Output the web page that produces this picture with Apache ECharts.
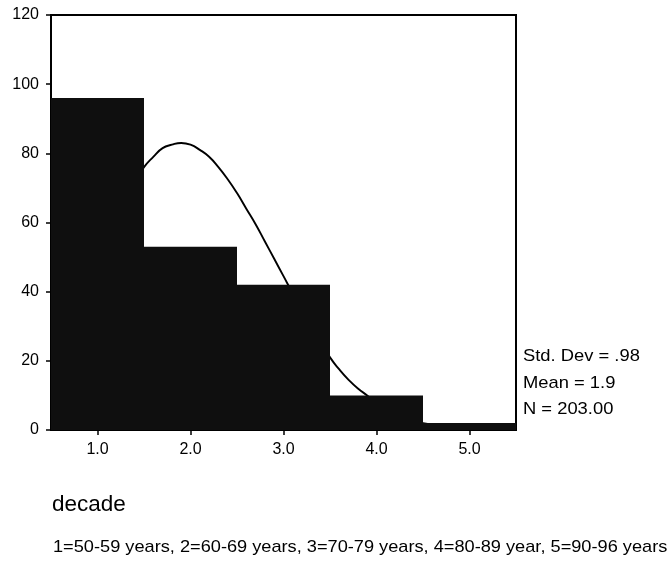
<!DOCTYPE html>
<html>
<head>
<meta charset="utf-8">
<script src="https://cdn.jsdelivr.net/npm/echarts@6/dist/echarts.min.js"></script>
<style>
  html, body { margin: 0; padding: 0; background: #fff; }
  #chart { width: 671px; height: 562px; }
</style>
</head>
<body>
<div id="chart"></div>
<script>
// Histogram of age decade with fitted normal curve
const binLabels = ['1.0', '2.0', '3.0', '4.0', '5.0'];
const binCounts = [96, 53, 42, 10, 2];

// Normal curve read along the decade scale: [decade, frequency]
const curveX = [0.5, 0.75, 1.0, 1.25, 1.5, 1.6, 1.7, 1.8, 1.9, 2.0, 2.1, 2.2, 2.3, 2.4, 2.5,
                2.6, 2.7, 2.8, 2.9, 3.0, 3.1, 3.2, 3.3, 3.4, 3.5, 3.6, 3.7, 3.8, 3.9, 4.0,
                4.25, 4.5, 5.0, 5.5];
const curveY = [30, 41, 54, 66, 76, 79, 81.5, 82.5, 83, 82.5, 81, 79, 76, 72.5, 68.5,
                64, 59.5, 54.5, 49.5, 44.5, 39.5, 35, 30, 25.5, 21, 17.5, 14.5, 12, 10, 8,
                4.5, 2, 0.5, 0.1];

const statLines = ['Std. Dev = .98', 'Mean = 1.9', 'N = 203.00'];
const axisTitle = 'decade';
const axisNote = '1=50-59 years, 2=60-69 years, 3=70-79 years, 4=80-89 year, 5=90-96 years';

const font = 'Liberation Sans, Arial, sans-serif';
const chart = echarts.init(document.getElementById('chart'), null, { renderer: 'canvas' });

function label(text, x, y, size, stretch) {
  return {
    type: 'text', x: x, y: y, scaleX: stretch || 1,
    style: { text: text, font: size + 'px ' + font, fill: '#000', textVerticalAlign: 'middle', verticalAlign: 'middle' }
  };
}

chart.setOption({
  animation: false,
  backgroundColor: '#fff',
  grid: {
    left: 51, right: 155, top: 15, bottom: 132,
    show: true, borderColor: '#000', borderWidth: 2, backgroundColor: 'transparent'
  },
  xAxis: [
    {
      type: 'category',
      data: binLabels,
      boundaryGap: true,
      axisLine: { show: true, lineStyle: { color: '#000', width: 2 } },
      axisTick: { show: true, alignWithLabel: true, length: 5, lineStyle: { color: '#000', width: 1.5 } },
      axisLabel: { color: '#000', fontFamily: font, fontSize: 16, margin: 12 },
      splitLine: { show: false }
    },
    {
      type: 'value',
      min: 0.5, max: 5.5,
      show: false
    }
  ],
  yAxis: {
    type: 'value',
    min: 0, max: 120, interval: 20,
    axisLine: { show: true, lineStyle: { color: '#000', width: 2 } },
    axisTick: { show: true, length: 5, lineStyle: { color: '#000', width: 1.5 } },
    axisLabel: { color: '#000', fontFamily: font, fontSize: 16, margin: 12 },
    splitLine: { show: false }
  },
  series: [
    {
      type: 'line',
      xAxisIndex: 1,
      data: curveX.map((x, i) => [x, curveY[i]]),
      smooth: true,
      showSymbol: false,
      lineStyle: { color: '#000', width: 1.9 },
      z: 1
    },
    {
      type: 'bar',
      xAxisIndex: 0,
      data: binCounts,
      barWidth: '100%',
      barCategoryGap: '0%',
      itemStyle: { color: '#0f0f0f' },
      z: 3
    }
  ],
  graphic: [
    label(statLines[0], 523, 356.5, 17, 1.08),
    label(statLines[1], 523, 383, 17, 1.08),
    label(statLines[2], 523, 409.5, 17, 1.08),
    label(axisTitle, 52, 505, 22.5, 1),
    label(axisNote, 53, 547.5, 17, 1.07)
  ]
});
</script>
</body>
</html>
